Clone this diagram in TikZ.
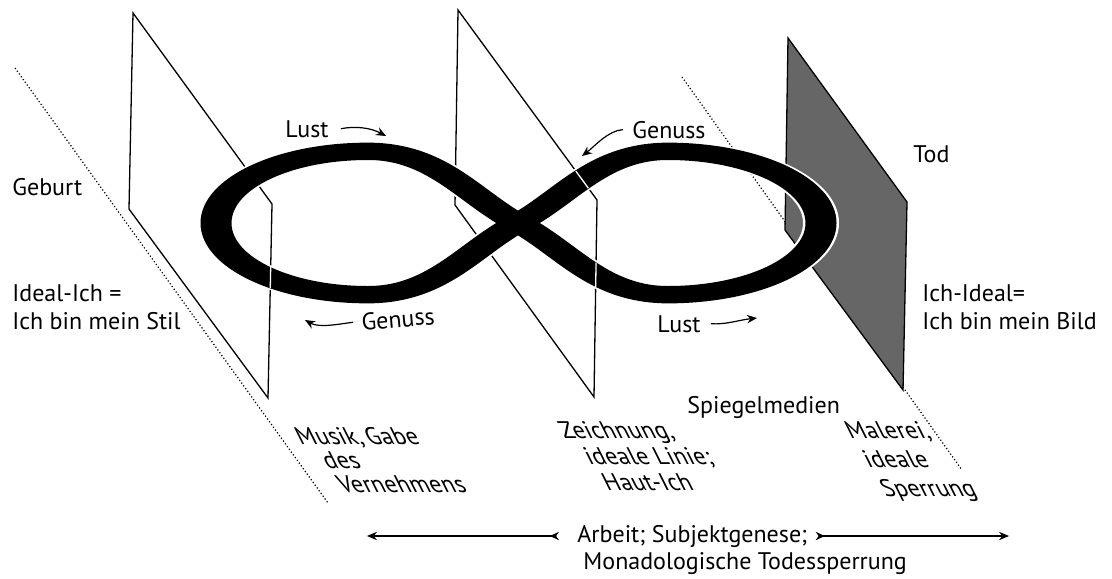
\documentclass[tikz,border=0pt]{standalone}
\usepackage{fontspec}
\setmainfont{PT Sans}
\newfontfamily\groundfont[FakeSlant=-0.5]{PT Sans}
\usepackage{tikz}
\usetikzlibrary{arrows.meta,positioning,calc}

\tikzset{
  % flat ribbon of the figure eight
  band/.style={draw=black, line width=15.5pt, line join=round,
    preaction={draw=white, line width=18pt}},
  % upright plane, seen in perspective
  plane/.style={draw=black, line width=0.65pt, line join=miter},
  % part of a plane edge that lies in front of the ribbon
  front/.style={draw=white, line width=0.65pt},
  % dotted ground line
  guide/.style={line width=0.6pt, dash pattern=on 0.6pt off 1.1pt},
  % small curved arrow beside a label
  flow/.style={-{Stealth[length=5pt,width=4.2pt]}, line width=0.6pt},
  % long arrow along the bottom
  span/.style={{Stealth[length=4.5pt,width=4.2pt,reversed]}-{Stealth[length=5pt,width=4.2pt]},
    line width=0.65pt},
  % label text
  lbl/.style={font=\fontsize{12}{14}\selectfont, inner sep=0pt, align=left},
  % label lying on the ground, slanted back
  slab/.style={lbl, font=\groundfont\fontsize{12}{#1}\selectfont},
  slab/.default=13pt
}

\begin{document}
\begin{tikzpicture}[x=0.5pt, y=-0.5pt]
  \useasboundingbox (0,0) rectangle (1112,578);

  % ground lines
  \draw[guide] (15,68) -- (328,503);
  \draw[guide] (682,77) -- (962,470);

  % the three planes
  \coordinate (la) at (133,13);  \coordinate (lb) at (129,209);
  \coordinate (lc) at (268,398); \coordinate (ld) at (272,204);
  \coordinate (ma) at (458,10);  \coordinate (mb) at (455,205);
  \coordinate (mc) at (594,397); \coordinate (md) at (597,200);
  \coordinate (ra) at (788,38);  \coordinate (rb) at (785,230);
  \coordinate (rc) at (903,390); \coordinate (rd) at (907,202);
  \draw[plane] (la) -- (lb) -- (lc) -- (ld) -- cycle;
  \draw[plane] (ma) -- (mb) -- (mc) -- (md) -- cycle;
  \draw[plane, fill=black!60] (ra) -- (rb) -- (rc) -- (rd) -- cycle;

  % figure eight, flat ribbon squeezed in height
  \begin{scope}[transform canvas={shift={(518,223)}, yscale=0.56}]
    \draw[band] (0,0) .. controls (-48,-45) and (-80,-128) .. (-150,-128)
      .. controls (-234,-128) and (-302,-71) .. (-302,0)
      .. controls (-302,71) and (-234,128) .. (-150,128)
      .. controls (-80,128) and (-48,45) .. (0,0)
      .. controls (48,-45) and (80,-128) .. (150,-128)
      .. controls (234,-128) and (303,-71) .. (303,0)
      .. controls (303,71) and (234,128) .. (150,128)
      .. controls (80,128) and (48,45) .. (0,0) -- cycle;
  \end{scope}

  % plane edges passing in front of the ribbon
  \draw[front] ($(ld)!0.325!(lc)$) -- ($(ld)!0.432!(lc)$);
  \draw[front] ($(md)!0.318!(mc)$) -- ($(md)!0.442!(mc)$);
  \draw[front] ($(ma)!0.848!(md)$) -- ($(ma)!0.938!(md)$);

  % labels
  \node[lbl, anchor=base west] (geburt) at (12,195) {Geburt};
  \node[lbl, anchor=north west] (idealich) at (12,284) {Ideal-Ich =\\Ich bin mein Stil};
  \node[lbl, anchor=base west] (tod) at (913,162) {Tod};
  \node[lbl, anchor=north west] (ichideal) at (922,284) {Ich-Ideal=\\Ich bin mein Bild};
  \node[lbl, anchor=base west] (spiegel) at (687,413) {Spiegelmedien};

  \node[lbl, anchor=base west] (lusta) at (285,137) {Lust};
  \node[lbl, anchor=base west] (genussa) at (632,138) {Genuss};
  \node[lbl, rotate=5] (genussb) at (398,319) {Genuss};
  \node[lbl, anchor=base west] (lustb) at (657,332) {Lust};

  \coordinate (lustatip) at (386,136);
  \coordinate (genussatip) at (582,156);
  \coordinate (genussbtip) at (305,320);
  \coordinate (lustbtip) at (757,318);
  \draw[flow] ([xshift=6pt]lusta.east) .. controls +(15,-3) and +(-15,-8) .. (lustatip);
  \draw[flow] ([xshift=-4.5pt]genussa.west) .. controls +(-15,1) and +(13,-10) .. (genussatip);
  \draw[flow] ([xshift=-4pt]genussb.west) .. controls +(-15,2) and +(14,8) .. (genussbtip);
  \draw[flow] ([xshift=5pt]lustb.east) .. controls +(15,1) and +(-18,2) .. (lustbtip);

  % labels on the ground
  \node[slab=12pt, anchor=north west] (musik) at (300,427)
    {Musik,\,Gabe\\\hspace*{13.5pt}des\\\hspace*{21pt}Vernehmens};
  \node[slab=13pt, anchor=north west] (zeichnung) at (564,421)
    {Zeichnung,\\\hspace*{12.5pt}ideale Linie;\\\hspace*{21.5pt}Haut-Ich};
  \node[slab=14.5pt, anchor=north west] (malerei) at (850,421)
    {Malerei,\\\hspace*{9pt}ideale\\\hspace*{17.5pt}Sperrung};

  % bottom arrow
  \node[lbl, anchor=base west] (arbeit) at (577,542) {Arbeit; Subjektgenese;};
  \node[lbl, anchor=base west] (todes) at (583,569) {Monadologische Todessperrung};
  \coordinate (arbeitL) at (367,537);
  \coordinate (arbeitR) at (1009,537);
  \draw[span] ([xshift=-9pt]arbeit.west) -- (arbeit.west -| arbeitL);
  \draw[span] ([xshift=4pt]arbeit.east) -- (arbeit.east -| arbeitR);
\end{tikzpicture}
\end{document}
